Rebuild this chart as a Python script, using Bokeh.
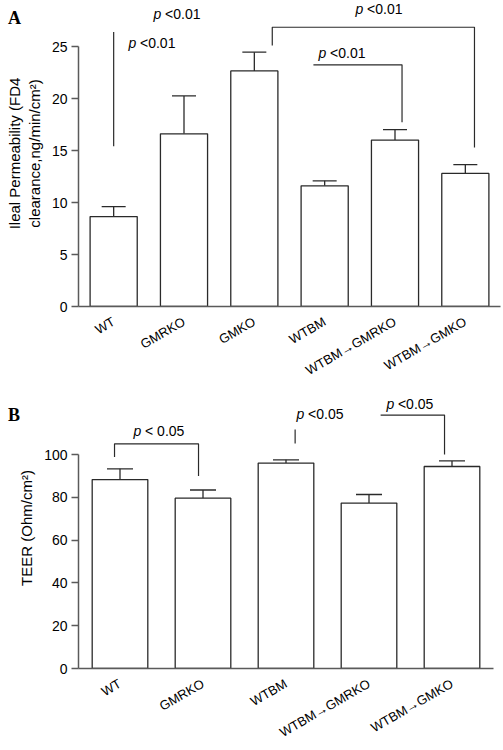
import math
from bokeh.plotting import figure
from bokeh.models import (ColumnDataSource, Whisker, TeeHead, FixedTicker, Range1d, Div)
from bokeh.layouts import column
from bokeh.embed import file_html
from bokeh.resources import INLINE
from bokeh.core.properties import value

# ---------------- data ----------------
a_categories = ["WT", "GMRKO", "GMKO", "WTBM", "WTBM\u2192GMRKO", "WTBM\u2192GMKO"]
a_means = [8.65, 16.6, 22.65, 11.6, 16.0, 12.8]
a_errors = [0.95, 3.65, 1.8, 0.48, 1.0, 0.85]
a_yticks = [0, 5, 10, 15, 20, 25]
a_ylabel = "Ileal Permeability (FD4\nclearance,ng/min/cm\u00b2)"

b_categories = ["WT", "GMRKO", "WTBM", "WTBM\u2192GMRKO", "WTBM\u2192GMKO"]
b_means = [88.3, 79.6, 96.0, 77.3, 94.4]
b_errors = [5.0, 3.8, 1.5, 4.0, 2.6]
b_yticks = [0, 20, 40, 60, 80, 100]
b_ylabel = "TEER (Ohm/cm\u00b2)"

panel_letters = ["A", "B"]

# significance annotations (data coordinates)
a_p_text = ["<0.01", "<0.01", "<0.01", "<0.01"]
a_p_x = [0.567, 0.211, 3.44, 2.914]
a_p_y = [28.08, 25.3, 28.56, 24.36]
a_lines_x = [[0.0, 0.0], [2.255, 2.255, 5.13, 5.13], [2.84, 4.10, 4.10]]
a_lines_y = [[15.4, 26.4], [25.1, 26.85, 26.85, 15.3], [23.24, 23.24, 17.72]]

b_p_text = ["< 0.05", "<0.05", "<0.05"]
b_p_x = [0.163, 2.127, 3.21]
b_p_y = [111.1, 119.0, 123.4]
b_lines_x = [[-0.066, -0.066, 0.946, 0.946], [2.11, 2.11], [3.14, 3.91, 3.91]]
b_lines_y = [[98.8, 105.0, 105.0, 89.9], [105.1, 111.7], [118.4, 118.4, 100.0]]

FONT = "Liberation Sans"
AXIS_COLOR = "#5a5a5a"
BAR_LINE = "#2a2a2a"


def make_panel(cats, means, errs, yticks, ytop, ylabel,
               p_x, p_y, p_text, lines_x, lines_y, frame_w, frame_h,
               border_left, border_right, head_size):
    n = len(cats)
    xs = list(range(n))
    p = figure(frame_width=frame_w, frame_height=frame_h, output_backend="svg",
               toolbar_location=None,
               x_range=Range1d(-0.5, n - 0.5), y_range=Range1d(0, ytop),
               min_border_left=border_left, min_border_right=border_right,
               min_border_top=0, min_border_bottom=40)
    p.outline_line_color = None
    p.xgrid.visible = False
    p.ygrid.visible = False
    p.border_fill_color = None
    p.background_fill_color = None

    src = ColumnDataSource(dict(x=xs, top=means, upper=[m + e for m, e in zip(means, errs)]))
    w = Whisker(base="x", lower="top", upper="upper", source=src, dimension="height",
                line_color=BAR_LINE, line_width=1.3,
                upper_head=TeeHead(size=head_size, line_color=BAR_LINE, line_width=1.3),
                lower_head=None)
    p.add_layout(w)
    p.vbar(x="x", top="top", width=0.67, source=src, fill_color="white",
           line_color=BAR_LINE, line_width=1.3)

    # significance lines and texts
    p.multi_line(xs=lines_x, ys=lines_y, line_color=BAR_LINE, line_width=1.2)
    ps = ColumnDataSource(dict(x=p_x, y=p_y, t=p_text, p=["p"] * len(p_x)))
    p.text(x="x", y="y", text="p", source=ps, text_font=value(FONT), text_font_size="14px",
           text_font_style="italic", text_align="left", text_baseline="middle", text_color="black")
    p.text(x="x", y="y", text="t", source=ps, text_font=value(FONT), text_font_size="14px",
           text_align="left", text_baseline="middle", text_color="black", x_offset=11.5)

    # y axis
    p.yaxis.ticker = FixedTicker(ticks=yticks)
    p.yaxis.bounds = (0, yticks[-1])
    p.yaxis.axis_line_color = AXIS_COLOR
    p.yaxis.axis_line_width = 1.5
    p.yaxis.major_tick_line_color = AXIS_COLOR
    p.yaxis.major_tick_line_width = 1.5
    p.yaxis.major_tick_out = 7
    p.yaxis.major_tick_in = 0
    p.yaxis.minor_tick_line_color = None
    p.yaxis.major_label_text_font = FONT
    p.yaxis.major_label_text_font_size = "14px"
    p.yaxis.major_label_text_color = "black"
    p.yaxis.major_label_standoff = 4
    p.yaxis.axis_label = ylabel
    p.yaxis.axis_label_text_font = FONT
    p.yaxis.axis_label_text_font_size = "15px"
    p.yaxis.axis_label_text_font_style = "normal"
    p.yaxis.axis_label_text_color = "black"
    p.yaxis.axis_label_standoff = 6

    # x axis with rotated category labels
    p.xaxis.ticker = FixedTicker(ticks=xs)
    p.xaxis.major_label_overrides = {i: c for i, c in zip(xs, cats)}
    p.xaxis.major_label_orientation = math.pi / 6
    p.xaxis.axis_line_color = AXIS_COLOR
    p.xaxis.axis_line_width = 1.5
    p.xaxis.major_tick_line_color = None
    p.xaxis.minor_tick_line_color = None
    p.xaxis.major_tick_out = 0
    p.xaxis.major_label_text_font = FONT
    p.xaxis.major_label_text_font_size = "13px"
    p.xaxis.major_label_text_color = "black"
    p.xaxis.major_label_standoff = 14
    return p


pa = make_panel(a_categories, a_means, a_errors, a_yticks, 306 / 10.4, a_ylabel,
                a_p_x, a_p_y, a_p_text, a_lines_x, a_lines_y,
                frame_w=422, frame_h=306, border_left=78, border_right=3, head_size=24)
pb = make_panel(b_categories, b_means, b_errors, b_yticks, 281 / 2.14, b_ylabel,
                b_p_x, b_p_y, b_p_text, b_lines_x, b_lines_y,
                frame_w=415, frame_h=281, border_left=77, border_right=11, head_size=26)

# panel letters, overlaid without taking layout space
letters_html = (
    f'<div style="position:absolute;top:4px;left:3px">{panel_letters[0]}</div>'
    f'<div style="position:absolute;top:401px;left:3px">{panel_letters[1]}</div>'
)
letters = Div(text=letters_html, width=30, height=0,
              styles={"position": "absolute", "top": "0px", "left": "0px",
                      "font-family": "Liberation Serif", "font-size": "18px",
                      "font-weight": "bold", "color": "black", "line-height": "18px",
                      "overflow": "visible", "z-index": "10"},
              stylesheets=[":host, div { overflow: visible !important; }"])

layout = column(letters, pa, pb, spacing=0)
open("out.html", "w").write(file_html(layout, INLINE))
